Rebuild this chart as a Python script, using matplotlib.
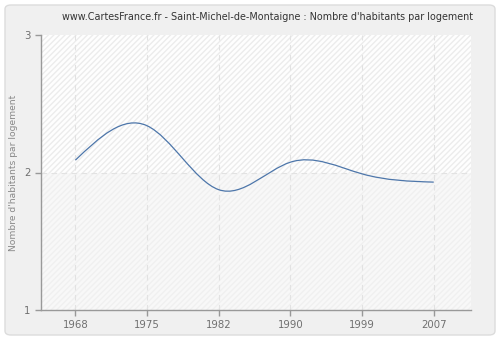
import numpy as np
import matplotlib.pyplot as plt
from matplotlib.patches import FancyBboxPatch, Rectangle, PathPatch
from matplotlib.path import Path

years = ["1968", "1975", "1982", "1990", "1999", "2007"]
values = [2.09, 2.34, 1.875, 2.075, 1.99, 1.93]
yticks = [1, 2, 3]

fig = plt.figure(figsize=(5, 3.4), dpi=100)
fig.patch.set_facecolor("white")
fig.patches.append(FancyBboxPatch((5 / 500, 5 / 340), 490 / 500, 330 / 340,
                                  boxstyle="round,pad=0,rounding_size=0.012",
                                  transform=fig.transFigure, facecolor="#f0f0f0",
                                  edgecolor="#dcdcdc", linewidth=1, zorder=-10))

ax = fig.add_axes([41 / 500, 30 / 340, 430 / 500, 275 / 340])
ax.set_facecolor("#fafafa")
ax.set_xlim(-0.48, 5.52)
ax.set_ylim(1, 3)

# hatched background, lighter above 2
ax.add_patch(Rectangle((-0.48, 2), 6, 1, facecolor="#fefefe", edgecolor="#ececec",
                       hatch="//////", linewidth=0, zorder=0))
ax.add_patch(Rectangle((-0.48, 1), 6, 1, facecolor="#f8f8f8", edgecolor="#f0f0f0",
                       hatch="//////", linewidth=0, zorder=0))

# natural cubic spline through the points, drawn as Bezier segments
x = np.arange(len(values), dtype=float)
y = np.array(values)
n = len(y) - 1
A = np.zeros((n + 1, n + 1))
b = np.zeros(n + 1)
A[0, 0] = A[n, n] = 1
for i in range(1, n):
    A[i, i - 1:i + 2] = [1, 4, 1]
    b[i] = 6 * (y[i + 1] - 2 * y[i] + y[i - 1])
M = np.linalg.solve(A, b)
d = np.zeros(n + 1)
d[:n] = (y[1:] - y[:-1]) - (2 * M[:n] + M[1:]) / 6
d[n] = (y[n] - y[n - 1]) + (M[n - 1] + 2 * M[n]) / 6

verts = [(x[0], y[0])]
codes = [Path.MOVETO]
for i in range(n):
    verts += [(x[i] + 1 / 3, y[i] + d[i] / 3), (x[i + 1] - 1 / 3, y[i + 1] - d[i + 1] / 3),
              (x[i + 1], y[i + 1])]
    codes += [Path.CURVE4] * 3
ax.add_patch(PathPatch(Path(verts, codes), facecolor="none", edgecolor="#4d76aa",
                       linewidth=0.9, zorder=3))

for xi in x:
    ax.axvline(xi, color="#e2e2e2", linestyle=(0, (5, 4)), linewidth=0.8, zorder=1)
ax.axhline(2, color="#e2e2e2", linestyle=(0, (5, 4)), linewidth=0.8, zorder=1)

ax.set_xticks(x)
ax.set_xticklabels(years)
ax.set_yticks(yticks)
ax.set_yticklabels([str(v) for v in yticks])
for s in ["top", "right"]:
    ax.spines[s].set_visible(False)
for s in ["left", "bottom"]:
    ax.spines[s].set_color("#999999")
    ax.spines[s].set_linewidth(1)
ax.tick_params(colors="#999999", labelcolor="#6f6f6f", labelsize=7.3, length=4, width=1)
ax.set_ylabel("Nombre d'habitants par logement", color="#888888", fontsize=6.6)
ax.yaxis.set_label_coords(-0.054, 0.5)

fig.text(0.534, 0.95, "www.CartesFrance.fr - Saint-Michel-de-Montaigne : Nombre d'habitants par logement",
         ha="center", va="center", fontsize=6.9, color="#333333")

fig.savefig("out.png", dpi=100, facecolor=fig.get_facecolor())
